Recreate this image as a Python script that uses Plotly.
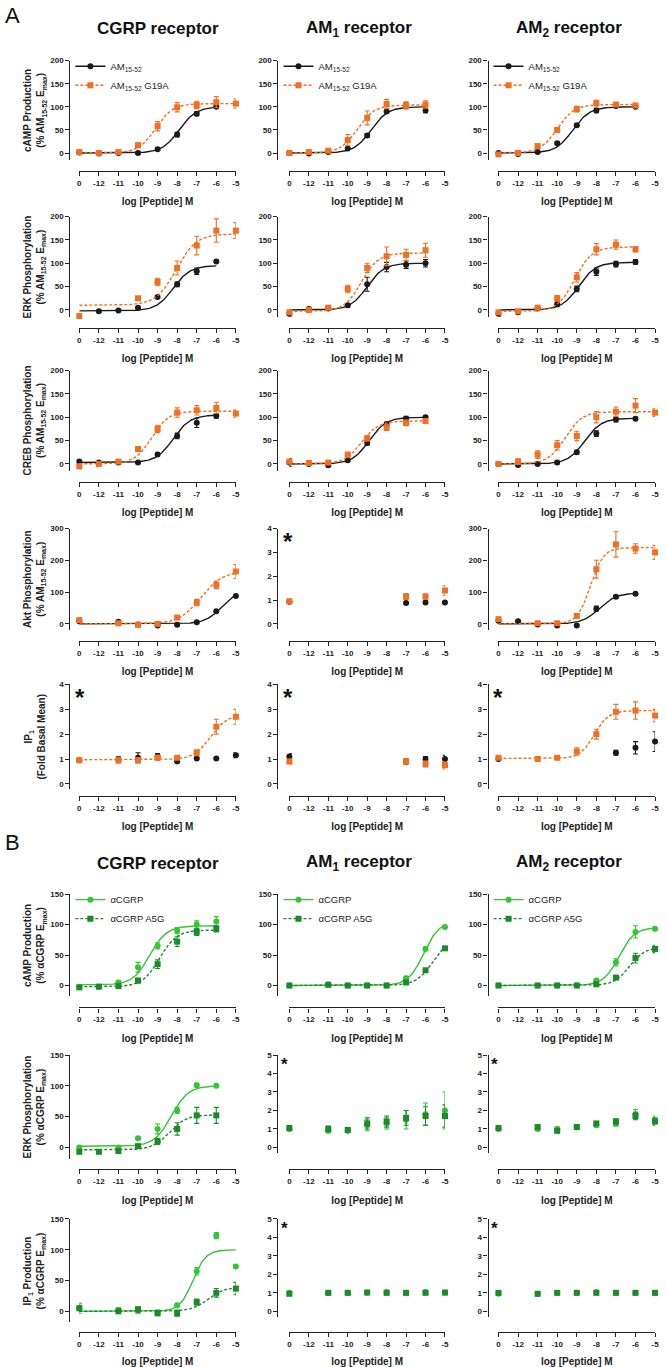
import numpy as np
import plotly.graph_objects as go

W, H = 666, 1367
FONT = "Liberation Sans"

# x categories (log M); "0" is the vehicle point, drawn one step left of -12
X_LOG = [0, -12, -11, -10, -9, -8, -7, -6, -5]
X_TICKTEXT = ["0", "-12", "-11", "-10", "-9", "-8", "-7", "-6", "-5"]

RECEPTORS = ["CGRP receptor", "AM<sub>1</sub> receptor", "AM<sub>2</sub> receptor"]

# each list holds one row per receptor: CGRP, AM1, AM2 (None = not tested)
# fits are (bottom, top, logEC50, hill), None = no curve

# ---------------- A: AM15-52 vs AM15-52 G19A ----------------
A_CAMP_AM = [[1, -1, 0, 0, 8, 40, 85, 100, None],
             [0, -1, 2, 10, 38, 90, 103, 92, None],
             [0, -2, 2, 21, 60, 92, 102, 100, None]]
A_CAMP_AM_SEM = [[2, 2, 2, 2, 2, 5, 4, 2, None],
                 [2, 2, 2, 2, 4, 3, 5, 5, None],
                 [2, 2, 2, 3, 3, 5, 3, 2, None]]
A_CAMP_AM_FIT = [(0, 100, -7.9, 1), (0, 100, -8.8, 1), (0, 100, -9.2, 1)]
A_CAMP_G19A = [[2, 0, 2, 17, 58, 99, 104, 110, 107],
               [0, 2, 5, 28, 76, 106, 103, 105, None],
               [-3, 0, 15, 50, 95, 108, 105, 103, None]]
A_CAMP_G19A_SEM = [[2, 2, 3, 4, 10, 10, 8, 12, 10],
                   [2, 2, 3, 12, 15, 10, 8, 8, None],
                   [2, 2, 3, 5, 6, 6, 4, 3, None]]
A_CAMP_G19A_FIT = [(0, 107, -9.1, 1), (0, 104, -9.5, 1), (0, 105, -10.0, 1)]

A_ERK_AM = [[None, -3, -1, 5, 28, 55, 83, 104, None],
            [-8, 2, 3, 10, 55, 92, 97, 100, None],
            [-8, -5, 3, 12, 45, 82, 98, 103, None]]
A_ERK_AM_SEM = [[None, 2, 2, 2, 2, 5, 7, 2, None],
                [5, 3, 3, 4, 15, 10, 8, 8, None],
                [5, 3, 3, 5, 6, 8, 6, 5, None]]
A_ERK_AM_FIT = [(-2, 95, -8.2, 1), (0, 100, -9.0, 1), (0, 102, -8.9, 1)]
A_ERK_G19A = [[-13, None, None, 25, 60, 90, 138, 170, 170],
              [-5, 0, 5, 45, 90, 115, 118, 128, None],
              [-5, -3, 5, 25, 70, 130, 140, 130, None]]
A_ERK_G19A_SEM = [[2, None, None, 3, 8, 15, 20, 25, 17],
                  [5, 3, 4, 8, 10, 20, 12, 15, None],
                  [5, 3, 4, 6, 10, 12, 10, 6, None]]
A_ERK_G19A_FIT = [(10, 163, -8.05, 0.85), (-3, 122, -9.3, 1), (-3, 135, -9.1, 1)]

A_CREB_AM = [[5, 3, 3, 3, 20, 60, 88, 103, None],
             [3, 0, -3, 8, 45, 85, 97, 100, None],
             [0, -2, 0, 3, 25, 65, 95, 97, None]]
A_CREB_AM_SEM = [[3, 2, 2, 2, 3, 6, 10, 5, None],
                 [8, 3, 3, 3, 5, 5, 5, 3, None],
                 [3, 3, 3, 3, 4, 6, 5, 3, None]]
A_CREB_AM_FIT = [(3, 105, -8.2, 1), (0, 100, -8.9, 1), (0, 98, -8.6, 1)]
A_CREB_G19A = [[-5, 0, 5, 32, 75, 110, 115, 120, 108],
               [5, 2, 3, 20, 55, 78, 88, 92, None],
               [0, 5, 20, 40, 60, 100, 112, 125, 110]]
A_CREB_G19A_SEM = [[5, 3, 4, 5, 8, 10, 10, 12, 8],
                   [5, 3, 3, 5, 6, 6, 6, 5, None],
                   [5, 6, 8, 10, 10, 12, 10, 15, 8]]
A_CREB_G19A_FIT = [(0, 113, -9.3, 1), (0, 92, -9.3, 1), (0, 112, -9.6, 1)]

A_AKT_AM = [[8, None, 7, -2, -5, -3, 5, 40, 88],
            [0.93, None, None, None, None, None, 0.88, 0.9, 0.9],
            [10, 8, -2, -5, -5, 48, 85, 95, None]]
A_AKT_AM_SEM = [[3, None, 3, 3, 2, 2, 3, 3, 3],
                [0.05, None, None, None, None, None, 0.05, 0.05, 0.05],
                [5, 3, 3, 3, 3, 8, 4, 3, None]]
A_AKT_AM_FIT = [(0, 110, -5.7, 1), None, (0, 97, -7.85, 1)]
A_AKT_G19A = [[12, None, 2, -3, 0, 20, 67, 123, 165],
              [0.95, None, None, None, None, None, 1.15, 1.15, 1.4],
              [15, None, 2, 2, 25, 172, 250, 237, 225]]
A_AKT_G19A_SEM = [[5, None, 3, 5, 3, 5, 10, 12, 22],
                  [0.05, None, None, None, None, None, 0.12, 0.1, 0.2],
                  [5, None, 3, 3, 5, 28, 40, 15, 22]]
A_AKT_G19A_FIT = [(0, 165, -6.8, 0.8), None, (0, 240, -8.3, 1.3)]

A_IP1_AM = [[0.95, None, 0.97, 1.05, 1.1, 0.9, 1.02, 1.02, 1.15],
            [1.1, None, None, None, None, None, 0.9, 1.0, 1.0],
            [1.0, None, None, None, None, None, 1.25, 1.45, 1.7]]
A_IP1_AM_SEM = [[0.05, None, 0.12, 0.2, 0.12, 0.05, 0.05, 0.05, 0.1],
                [0.12, None, None, None, None, None, 0.1, 0.1, 0.15],
                [0.05, None, None, None, None, None, 0.1, 0.25, 0.4]]
A_IP1_AM_FIT = [None, None, None]
A_IP1_G19A = [[0.95, None, 0.95, 0.95, 1.05, 1.05, 1.25, 2.3, 2.7],
              [0.9, None, None, None, None, None, 0.9, 0.8, 0.75],
              [1.05, None, 1.0, 1.05, 1.3, 2.0, 2.9, 2.95, 2.75]]
A_IP1_G19A_SEM = [[0.05, None, 0.1, 0.1, 0.1, 0.08, 0.12, 0.3, 0.3],
                  [0.1, None, None, None, None, None, 0.1, 0.12, 0.15],
                  [0.05, None, 0.05, 0.05, 0.15, 0.2, 0.3, 0.35, 0.25]]
A_IP1_G19A_FIT = [(0.97, 2.8, -6.3, 1), None, (1.02, 2.95, -8.1, 1.2)]

# ---------------- B: aCGRP vs aCGRP A5G ----------------
B_CAMP_CGRP = [[-3, -2, 5, 30, 65, 90, 100, 105, None],
               [0, None, 2, 0, 0, 0, 12, 60, 96],
               [0, None, 0, 0, 0, 8, 38, 88, 93]]
B_CAMP_CGRP_SEM = [[2, 2, 3, 8, 5, 5, 6, 8, None],
                   [2, None, 2, 2, 2, 2, 3, 3, 2],
                   [2, None, 2, 2, 2, 3, 6, 10, 3]]
B_CAMP_CGRP_FIT = [(1, 98, -9.4, 1), (0, 105, -6.1, 1.1), (0, 95, -6.85, 1.1)]
B_CAMP_A5G = [[-3, -2, -1, 8, 35, 72, 88, 93, None],
              [0, None, 1, 0, 0, 0, 5, 25, 61],
              [0, None, 0, 0, 0, 2, 13, 45, 60]]
B_CAMP_A5G_SEM = [[2, 2, 2, 4, 7, 8, 6, 5, None],
                  [2, None, 2, 2, 2, 2, 2, 3, 3],
                  [2, None, 2, 2, 2, 2, 3, 8, 6]]
B_CAMP_A5G_FIT = [(-2, 91, -8.9, 1), (0, 80, -5.6, 1), (0, 63, -6.3, 1.1)]

B_ERK_CGRP = [[0, None, 0, 15, 30, 60, 101, 100, None],
              [1.0, None, 0.9, 0.9, 1.2, 1.3, 1.5, 1.8, 2.0],
              [1.0, None, 1.0, 1.0, 1.1, 1.2, 1.3, 1.8, 1.5]]
B_ERK_CGRP_SEM = [[3, None, 2, 2, 8, 5, 3, 2, None],
                  [0.1, None, 0.1, 0.1, 0.3, 0.3, 0.5, 0.6, 1.0],
                  [0.1, None, 0.1, 0.1, 0.1, 0.1, 0.15, 0.25, 0.2]]
B_ERK_CGRP_FIT = [(2, 100, -8.3, 1), None, None]
B_ERK_A5G = [[-7, -7, -6, 2, 10, 30, 52, 52, None],
             [1.05, None, 1.0, 0.95, 1.3, 1.4, 1.6, 1.7, 1.7],
             [1.05, None, 1.1, 0.9, 1.1, 1.3, 1.4, 1.7, 1.4]]
B_ERK_A5G_SEM = [[3, 2, 2, 3, 5, 10, 13, 13, None],
                 [0.1, None, 0.15, 0.1, 0.3, 0.3, 0.4, 0.5, 0.6],
                 [0.1, None, 0.1, 0.1, 0.1, 0.1, 0.15, 0.2, 0.2]]
B_ERK_A5G_FIT = [(-4, 53, -8.4, 1), None, None]

B_IP1_CGRP = [[5, None, 2, 2, -2, 10, 65, 123, 73],
              [1.0, None, 1.0, 1.0, 1.0, 1.05, 1.0, 1.05, 1.0],
              [0.95, None, 0.95, 1.0, 1.0, 1.05, 1.0, 1.0, 1.0]]
B_IP1_CGRP_SEM = [[8, None, 4, 5, 4, 2, 6, 5, 3],
                  [0.05, None, 0.05, 0.05, 0.05, 0.05, 0.05, 0.05, 0.05],
                  [0.05, None, 0.05, 0.05, 0.05, 0.05, 0.05, 0.05, 0.05]]
B_IP1_CGRP_FIT = [(0, 100, -7.2, 1.3), None, None]
B_IP1_A5G = [[5, None, 0, 3, -3, -3, 15, 30, 37],
             [0.95, None, 1.0, 1.0, 1.02, 1.0, 1.0, 1.0, 1.02],
             [1.0, None, 0.95, 1.0, 1.0, 1.0, 1.0, 1.0, 1.0]]
B_IP1_A5G_SEM = [[5, None, 3, 4, 4, 5, 5, 7, 10],
                 [0.05, None, 0.05, 0.05, 0.05, 0.05, 0.05, 0.05, 0.05],
                 [0.05, None, 0.05, 0.05, 0.05, 0.05, 0.05, 0.05, 0.05]]
B_IP1_A5G_FIT = [(0, 40, -6.4, 1), None, None]

A_NAMES = ["AM<sub>15-52</sub>", "AM<sub>15-52</sub> G19A"]
B_NAMES = ["\u03b1CGRP", "\u03b1CGRP A5G"]

EMAX_A = "(% AM<sub>15-52</sub> E<sub>max</sub>)"
EMAX_B = "(% \u03b1CGRP E<sub>max</sub>)"

PCT200 = (200, -15, 50)
PCT300 = (300, -20, 100)
PCT150 = (150, -18, 50)
FOLD4 = (4, -0.22, 1)
FOLD5 = (5, -0.3, 1)

ROWS = [
    dict(panel="A", wt=(A_CAMP_AM, A_CAMP_AM_SEM, A_CAMP_AM_FIT),
         mut=(A_CAMP_G19A, A_CAMP_G19A_SEM, A_CAMP_G19A_FIT),
         title="cAMP Production<br>" + EMAX_A, scale=[PCT200] * 3, legend=True),
    dict(panel="A", wt=(A_ERK_AM, A_ERK_AM_SEM, A_ERK_AM_FIT),
         mut=(A_ERK_G19A, A_ERK_G19A_SEM, A_ERK_G19A_FIT),
         title="ERK Phosphorylation<br>" + EMAX_A, scale=[PCT200] * 3),
    dict(panel="A", wt=(A_CREB_AM, A_CREB_AM_SEM, A_CREB_AM_FIT),
         mut=(A_CREB_G19A, A_CREB_G19A_SEM, A_CREB_G19A_FIT),
         title="CREB Phosphorylation<br>" + EMAX_A, scale=[PCT200] * 3),
    dict(panel="A", wt=(A_AKT_AM, A_AKT_AM_SEM, A_AKT_AM_FIT),
         mut=(A_AKT_G19A, A_AKT_G19A_SEM, A_AKT_G19A_FIT),
         title="Akt Phosphorylation<br>" + EMAX_A, scale=[PCT300, FOLD4, PCT300]),
    dict(panel="A", wt=(A_IP1_AM, A_IP1_AM_SEM, A_IP1_AM_FIT),
         mut=(A_IP1_G19A, A_IP1_G19A_SEM, A_IP1_G19A_FIT),
         title="IP<sub>1</sub><br>(Fold Basal Mean)", scale=[FOLD4] * 3),
    dict(panel="B", wt=(B_CAMP_CGRP, B_CAMP_CGRP_SEM, B_CAMP_CGRP_FIT),
         mut=(B_CAMP_A5G, B_CAMP_A5G_SEM, B_CAMP_A5G_FIT),
         title="cAMP Production<br>" + EMAX_B, scale=[PCT150] * 3, legend=True),
    dict(panel="B", wt=(B_ERK_CGRP, B_ERK_CGRP_SEM, B_ERK_CGRP_FIT),
         mut=(B_ERK_A5G, B_ERK_A5G_SEM, B_ERK_A5G_FIT),
         title="ERK Phosphorylation<br>" + EMAX_B, scale=[PCT150, FOLD5, FOLD5]),
    dict(panel="B", wt=(B_IP1_CGRP, B_IP1_CGRP_SEM, B_IP1_CGRP_FIT),
         mut=(B_IP1_A5G, B_IP1_A5G_SEM, B_IP1_A5G_FIT),
         title="IP<sub>1</sub> Production<br>" + EMAX_B, scale=[PCT150, FOLD5, FOLD5]),
]

# pixel layout: rows = (top tick, zero, x-axis line), cols = (y-axis line, x "0", x "-5")
ROW_PX = [(57, 150, 168), (214, 308, 326), (369, 463, 481), (528, 624, 641),
          (685, 785, 797), (896, 988, 1010), (1058, 1151, 1173), (1223, 1316, 1337)]
COL_PX = [(68, 78, 236), (278, 290, 447), (490, 501, 659)]

STYLE = {
    "A": [dict(color="#1a1a1a", symbol="circle", dash="solid"),
          dict(color="#f26f21", symbol="square", dash="3px,2px")],
    "B": [dict(color="#35c435", symbol="circle", dash="solid"),
          dict(color="#1b8a2a", symbol="square", dash="3px,2px")],
}

XPOS = [-13 if v == 0 else v for v in X_LOG]


def px(x):
    return x / W


def py(y):
    return 1 - y / H


def fit_line(params, values):
    b, t, ec, h = params
    xmax = max(p for p, v in zip(XPOS, values) if v is not None)
    xx = np.linspace(XPOS[0], xmax, 160)
    return xx, b + (t - b) / (1 + 10 ** ((ec - xx) * h))


fig = go.Figure()
layout = {}
annotations = []
legend_count = 0
tick_font = dict(family=FONT, size=8, color="#222", weight="bold")

for r, row in enumerate(ROWS):
    top_px, zero_px, xline_px = ROW_PX[r]
    style = STYLE[row["panel"]]
    names = A_NAMES if row["panel"] == "A" else B_NAMES
    for c in range(3):
        k = r * 3 + c + 1
        sfx = "" if k == 1 else str(k)
        yline_px, x0_px, x5_px = COL_PX[c]
        ymax, ymin, dtick = row["scale"][c]
        bottom_px = zero_px + (zero_px - top_px) * (-ymin) / ymax

        legend_name = None
        if row.get("legend"):
            legend_count += 1
            legend_name = "legend" if legend_count == 1 else f"legend{legend_count}"

        for (vals, sems, fits), st, name in zip((row["wt"], row["mut"]), style, names):
            y = vals[c]
            err = [0 if e is None else e for e in sems[c]]
            fig.add_trace(go.Scatter(
                x=XPOS, y=y, mode="markers", xaxis="x" + sfx, yaxis="y" + sfx,
                marker=dict(color=st["color"], symbol=st["symbol"], size=6),
                error_y=dict(type="data", array=err, color=st["color"],
                             thickness=1.1, width=2.5),
                cliponaxis=False, showlegend=False, hoverinfo="skip"))
            if fits[c] is not None:
                xx, yy = fit_line(fits[c], y)
                fig.add_trace(go.Scatter(
                    x=xx, y=yy, mode="lines", xaxis="x" + sfx, yaxis="y" + sfx,
                    line=dict(color=st["color"], width=1.4, dash=st["dash"]),
                    showlegend=False, hoverinfo="skip"))
            if legend_name:
                fig.add_trace(go.Scatter(
                    x=[None], y=[None], mode="lines+markers", name=name,
                    xaxis="x" + sfx, yaxis="y" + sfx, legend=legend_name,
                    marker=dict(color=st["color"], symbol=st["symbol"], size=6),
                    line=dict(color=st["color"], width=1.4, dash=st["dash"])))

        if legend_name:
            layout[legend_name] = dict(
                x=px(yline_px + 1), y=py(top_px - 9), xanchor="left", yanchor="top",
                bgcolor="rgba(0,0,0,0)", borderwidth=0, itemwidth=30,
                tracegroupgap=0, font=dict(family=FONT, size=9.5, color="#222"))

        layout["xaxis" + sfx] = dict(
            domain=[px(x0_px), px(x5_px)], range=[XPOS[0], XPOS[-1]],
            anchor="free", position=py(xline_px),
            tickvals=XPOS, ticktext=X_TICKTEXT, tickfont=tick_font,
            ticks="outside", ticklen=4, tickwidth=1.2, tickcolor="#222",
            showline=True, linecolor="#222", linewidth=1.3,
            showgrid=False, zeroline=False, ticklabeloverflow="allow",
            title=dict(text="log [Peptide] M", standoff=11,
                       font=dict(family=FONT, size=10, color="#222", weight="bold")))
        tickvals = list(np.arange(0, ymax + dtick / 2, dtick))
        layout["yaxis" + sfx] = dict(
            domain=[py(bottom_px), py(top_px)], range=[ymin, ymax],
            anchor="free", position=px(yline_px),
            tickvals=tickvals, ticktext=[f"{v:g}" for v in tickvals],
            tickfont=tick_font, ticks="outside", ticklen=4, tickwidth=1.2,
            tickcolor="#222", showline=True, linecolor="#222", linewidth=1.3,
            showgrid=False, zeroline=False)

        if dtick == 1:
            big = row["panel"] == "A"
            size = 24 if big else 17
            annotations.append(dict(
                text="<b>*</b>", xref="paper", yref="paper", showarrow=False,
                x=px(yline_px + (11 if big else 7)),
                y=py(top_px + (7 if big else 5) + 0.27 * size),
                xanchor="center", yanchor="middle",
                font=dict(family=FONT, size=size, color="#111")))

        if c == 0:
            annotations.append(dict(
                text=row["title"], xref="paper", yref="paper", showarrow=False,
                x=px(33), y=py((top_px + bottom_px) / 2), textangle=-90,
                xanchor="center", yanchor="middle",
                font=dict(family=FONT, size=10, color="#222", weight="bold")))

# column headings and panel letters
for panel_y, letter, letter_y in ((25, "A", 12), (865, "B", 844)):
    for c, (name, cx) in enumerate(zip(RECEPTORS, (157, 360, 572))):
        annotations.append(dict(
            text=name, xref="paper", yref="paper", x=px(cx), y=py(panel_y),
            showarrow=False, xanchor="center", yanchor="middle",
            font=dict(family=FONT, size=17, color="#111", weight="bold")))
    annotations.append(dict(
        text=letter, xref="paper", yref="paper", x=px(1), y=py(letter_y),
        showarrow=False, xanchor="left", yanchor="middle",
        font=dict(family=FONT, size=22, color="#111")))

fig.update_layout(
    width=W, height=H, margin=dict(l=0, r=0, t=0, b=0),
    plot_bgcolor="white", paper_bgcolor="white",
    annotations=annotations, **layout)

# page body has a default 8px margin; drop it so the 666x1367 figure fills the window
fig.write_html("out.html", config={"displayModeBar": False},
               post_script="document.body.style.margin='0';"
               "document.body.style.overflow='hidden';")
